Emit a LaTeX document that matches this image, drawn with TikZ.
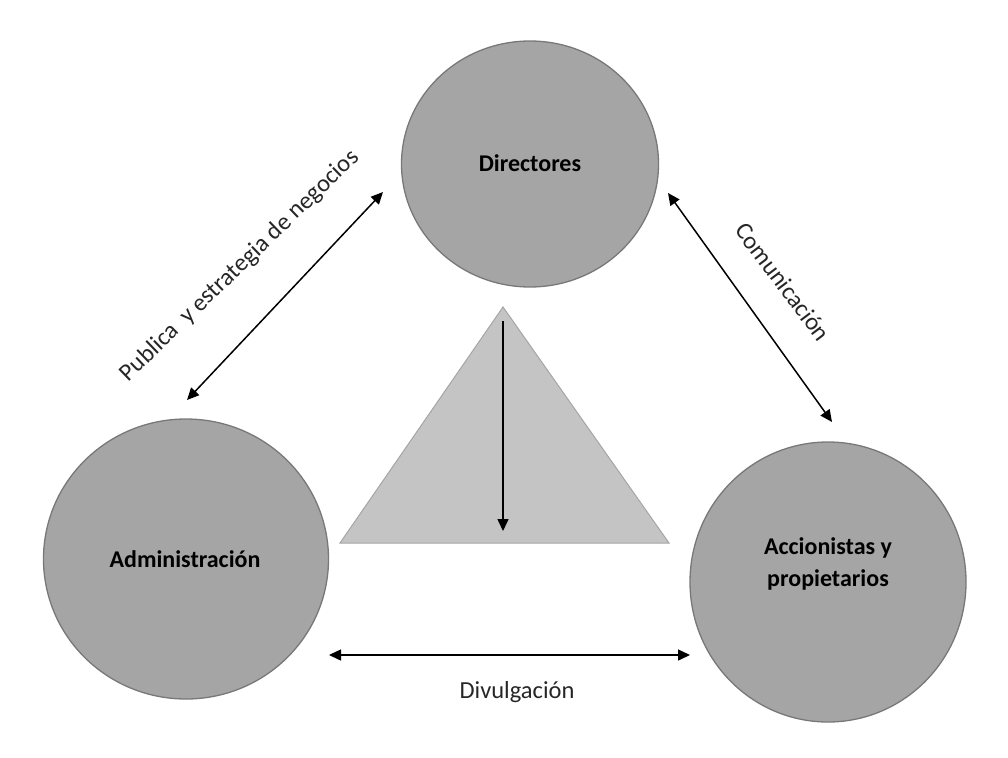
\documentclass[tikz,border=0pt]{standalone}
\usepackage{fontspec}
\setmainfont{Carlito}
\usetikzlibrary{arrows.meta,shapes.geometric}
\definecolor{circfill}{RGB}{165,165,165}
\definecolor{circdraw}{RGB}{120,120,120}
\definecolor{trifill}{RGB}{196,196,196}
\definecolor{tridraw}{RGB}{165,165,165}
\tikzset{
  orb/.style={ellipse, fill=circfill, draw=circdraw, line width=1.3pt, inner sep=0pt},
  boldlbl/.style={font=\fontsize{24}{32}\selectfont\bfseries, text=black, align=center},
  plainlbl/.style={font=\fontsize{24.5}{30}\selectfont, text=black!85},
  twoway/.style={line width=1.5pt, {Triangle[length=12pt,width=11pt]}-{Triangle[length=12pt,width=11pt]}},
  oneway/.style={line width=1.5pt, -{Triangle[length=12pt,width=11pt]}}
}
\begin{document}
\begin{tikzpicture}[x=1pt,y=-1pt]
\useasboundingbox (0,0) rectangle (1008,757);
% circles
\node[orb, minimum width=257pt, minimum height=246pt] (dir) at (530,164) {};
\node[orb, minimum width=285pt, minimum height=280pt] (adm) at (186,559) {};
\node[orb, minimum width=276pt, minimum height=280pt] (acc) at (828,582) {};
\node[boldlbl] (dirl) at (530,163) {Directores};
\node[boldlbl] (adml) at (185,559) {Administración};
\node[boldlbl] (accl) at (828,564) {Accionistas y\\propietarios};
% triangle
\coordinate (tA) at (503,307);
\coordinate (tL) at (340,543);
\coordinate (tR) at (669,543);
\draw[fill=trifill, draw=tridraw, line width=1pt] (tA) -- (tL) -- (tR) -- cycle;
\coordinate (vTop) at (503,321);
\coordinate (vBot) at (503,531);
\draw[oneway] (vTop) -- (vBot);
% connectors
\coordinate (l1) at (187,400);
\coordinate (l2) at (383,192);
\draw[twoway] (l1) -- (l2);
\coordinate (r1) at (668,193);
\coordinate (r2) at (832,422);
\draw[twoway] (r1) -- (r2);
\coordinate (b1) at (329,655);
\coordinate (b2) at (690,655);
\draw[twoway] (b1) -- (b2);
% labels
\node[plainlbl, rotate=44] (publ) at (240,266) {Publica\ \ y estrategia de negocios};
\node[plainlbl, rotate=-53] (coml) at (783,282) {Comunicación};
\node[plainlbl] (divl) at (517,692) {Divulgación};
\end{tikzpicture}
\end{document}
